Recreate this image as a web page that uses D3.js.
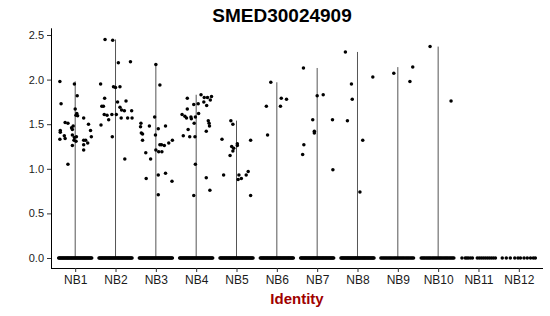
<!DOCTYPE html>
<html>
<head>
<meta charset="utf-8">
<script src="https://cdn.jsdelivr.net/npm/d3@7"></script>
<style>
  body { margin: 0; background: #fff; }
  svg text { font-family: "Liberation Sans", Arial, sans-serif; }
</style>
</head>
<body>
<div id="chart"></div>
<script>
// Catégories et graduations
const groups = ["NB1", "NB2", "NB3", "NB4", "NB5", "NB6", "NB7", "NB8", "NB9", "NB10", "NB11", "NB12"];
const yTicks = [0, 0.5, 1.0, 1.5, 2.0, 2.5];
const yDomain = [-0.112, 2.575];

// Points non nuls : [décalage jitter (en largeur de catégorie), valeur]
const nb1 = [[-0.38,1.98],[-0.02,1.95],[0.05,1.82],[-0.35,1.73],[0.0,1.67],[0.04,1.62],[0.02,1.60],[0.06,1.595],
  [0.21,1.57],[-0.25,1.52],[-0.18,1.51],[-0.05,1.48],[-0.09,1.46],[-0.07,1.44],[0.33,1.50],[-0.37,1.43],[-0.37,1.41],
  [0.38,1.43],[-0.27,1.37],[-0.25,1.34],[-0.38,1.33],[-0.07,1.38],[-0.02,1.35],[0.03,1.36],[-0.03,1.32],[0.02,1.31],
  [0.21,1.32],[0.26,1.32],[0.31,1.29],[0.40,1.36],[-0.07,1.26],[0.21,1.27],[0.21,1.21],[-0.18,1.05]];
const nb2 = [[-0.26,2.45],[-0.07,2.44],[0.07,2.19],[0.37,2.20],[-0.37,1.95],[-0.05,1.92],[0.0,1.91],[0.11,1.92],
  [-0.27,1.79],[0.05,1.75],[0.26,1.76],[-0.34,1.70],[-0.30,1.70],[0.11,1.69],[0.15,1.66],[-0.28,1.61],[-0.21,1.60],
  [-0.09,1.61],[0.02,1.61],[0.22,1.65],[0.40,1.65],[0.14,1.57],[0.30,1.57],[0.41,1.57],[-0.17,1.55],[-0.36,1.49],
  [-0.08,1.36],[0.23,1.11]];
const nb3 = [[0.0,2.17],[0.10,1.94],[-0.03,1.58],[-0.37,1.51],[-0.38,1.47],[-0.16,1.48],[0.24,1.48],[-0.36,1.40],
  [-0.33,1.39],[0.06,1.45],[-0.01,1.38],[-0.33,1.32],[0.10,1.27],[0.21,1.26],[0.14,1.27],[0.32,1.29],[0.41,1.32],
  [0.0,1.21],[0.07,1.19],[0.15,1.19],[-0.25,1.18],[-0.13,1.11],[-0.24,0.89],[0.06,0.93],[0.24,0.95],[0.40,0.86],
  [0.06,0.71]];
const nb4 = [[0.12,1.83],[0.20,1.80],[0.28,1.80],[0.38,1.81],[-0.22,1.79],[0.19,1.75],[0.35,1.77],[-0.06,1.72],
  [0.05,1.73],[0.26,1.71],[-0.22,1.67],[0.06,1.62],[-0.35,1.61],[-0.28,1.59],[-0.24,1.57],[-0.13,1.58],[-0.12,1.56],
  [-0.02,1.58],[0.30,1.54],[0.32,1.51],[0.33,1.48],[-0.05,1.51],[-0.20,1.44],[0.25,1.42],[-0.32,1.37],[-0.16,1.36],
  [-0.03,1.36],[-0.02,1.05],[0.25,0.90],[0.34,0.76],[-0.06,0.70]];
const nb5 = [[-0.14,1.54],[-0.09,1.50],[-0.36,1.33],[0.35,1.32],[-0.12,1.25],[-0.07,1.23],[0.02,1.28],[0.02,1.26],
  [-0.09,1.20],[-0.16,1.15],[-0.32,0.93],[0.06,0.93],[0.04,0.88],[0.12,0.89],[0.24,0.93],[0.29,0.97],[0.35,0.70]];
const nb6 = [[-0.15,1.97],[0.11,1.79],[0.24,1.78],[-0.26,1.70],[0.09,1.70],[-0.23,1.38]];
const nb7 = [[-0.34,2.13],[0.0,1.82],[0.15,1.83],[-0.11,1.55],[0.38,1.55],[-0.07,1.42],[-0.07,1.40],[-0.33,1.27],
  [-0.36,1.16],[0.39,0.99]];
const nb8 = [[-0.30,2.31],[0.38,2.03],[-0.15,1.95],[-0.13,1.78],[-0.25,1.54],[0.13,1.32],[0.06,0.74]];
const nb9 = [[-0.10,2.07],[0.37,2.14],[0.30,1.98]];
const nb10 = [[-0.20,2.37],[0.32,1.76]];
const nb11 = [];
const nb12 = [];
const nonZero = [nb1, nb2, nb3, nb4, nb5, nb6, nb7, nb8, nb9, nb10, nb11, nb12];

// Points à zéro : décalages jitter
const zeroDense = [-0.41,-0.39,-0.37,-0.35,-0.33,-0.31,-0.29,-0.27,-0.25,-0.23,-0.21,-0.19,-0.17,-0.15,-0.13,
  -0.11,-0.09,-0.07,-0.05,-0.03,-0.01,0.01,0.03,0.05,0.07,0.09,0.11,0.13,0.15,0.17,0.19,0.21,0.23,0.25,0.27,
  0.29,0.31,0.33,0.35,0.37,0.39,0.41];
const zeroMid = [-0.42,-0.39,-0.36,-0.33,-0.30,-0.27,-0.24,-0.21,-0.18,-0.15,-0.12,-0.09,-0.06,-0.03,0.0,0.03,
  0.06,0.09,0.12,0.15,0.18,0.21,0.24,0.27,0.30,0.33,0.36,0.39];
const zeroNB11 = [-0.41,-0.33,-0.29,-0.25,-0.20,-0.15,-0.03,0.02,0.07,0.12,0.17,0.22,0.27,0.32,0.37,0.42];
const zeroNB12 = [-0.41,-0.31,-0.21,-0.10,-0.02,0.04,0.13,0.21,0.29,0.36,0.41];
const zeros = [zeroDense, zeroDense, zeroDense, zeroDense, zeroDense, zeroDense, zeroDense, zeroDense,
  zeroMid, zeroMid, zeroNB11, zeroNB12];

const W = 550, H = 316;
const panel = { left: 51, right: 543, top: 28.3, bottom: 268 };

const svg = d3.select("#chart").append("svg")
  .attr("width", W)
  .attr("height", H);

// Échelles
const x = d3.scalePoint()
  .domain(groups)
  .range([panel.left, panel.right])
  .padding(0.6);
const step = x.step();

const y = d3.scaleLinear()
  .domain(yDomain)
  .range([panel.bottom, panel.top]);

// Lignes des violons (de 0 au maximum du groupe)
groups.forEach((g, i) => {
  const pts = nonZero[i];
  if (!pts.length) return;
  const top = d3.max(pts, d => d[1]);
  svg.append("line")
    .attr("x1", x(g)).attr("x2", x(g))
    .attr("y1", y(0)).attr("y2", y(top))
    .attr("stroke", "#555")
    .attr("stroke-width", 1);
});

// Points
const allPts = [];
groups.forEach((g, i) => {
  zeros[i].forEach(o => allPts.push({ g, o, v: 0 }));
  nonZero[i].forEach(d => allPts.push({ g, o: d[0], v: d[1] }));
});

svg.append("g").selectAll("circle")
  .data(allPts)
  .enter()
  .append("circle")
  .attr("cx", d => x(d.g) + d.o * step)
  .attr("cy", d => y(d.v))
  .attr("r", 1.75)
  .attr("fill", "#000");

// Axe Y
svg.append("g")
  .attr("transform", `translate(${panel.left},0)`)
  .call(d3.axisLeft(y).tickValues(yTicks).tickFormat(d3.format(".1f")).tickSize(4).tickPadding(3))
  .call(g => g.select(".domain").attr("d", `M0.5,${panel.top}V${panel.bottom}`).attr("stroke", "#000"))
  .call(g => g.selectAll(".tick line").attr("stroke", "#333"))
  .selectAll("text")
  .style("font-size", "11px")
  .style("fill", "#1a1a1a");

// Axe X
svg.append("g")
  .attr("transform", `translate(0,${panel.bottom})`)
  .call(d3.axisBottom(x).tickSize(4).tickPadding(3))
  .call(g => g.select(".domain").attr("d", `M${panel.left},0.5H${panel.right}`).attr("stroke", "#000"))
  .call(g => g.selectAll(".tick line").attr("stroke", "#333"))
  .selectAll("text")
  .style("font-size", "12px")
  .style("fill", "#1a1a1a");

// Titre
svg.append("text")
  .attr("x", 282)
  .attr("y", 21.7)
  .attr("text-anchor", "middle")
  .style("font-size", "19px")
  .style("font-weight", "bold")
  .style("fill", "#000")
  .text("SMED30024909");

// Titre de l'axe X
svg.append("text")
  .attr("x", (panel.left + panel.right) / 2)
  .attr("y", 304)
  .attr("text-anchor", "middle")
  .style("font-size", "15px")
  .style("font-weight", "bold")
  .style("fill", "#a00000")
  .text("Identity");
</script>
</body>
</html>
